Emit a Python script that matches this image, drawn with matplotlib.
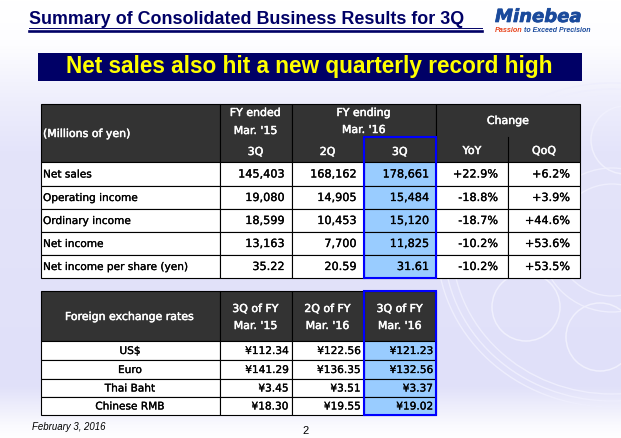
import numpy as np
import matplotlib
matplotlib.use("Agg")
import matplotlib.pyplot as plt
import matplotlib.patheffects as pe
from matplotlib.patches import Rectangle, Ellipse, Circle

# --- table data ---
results_rows = ["Net sales", "Operating income", "Ordinary income", "Net income", "Net income per share (yen)"]
results_3q15 = ["145,403", "19,080", "18,599", "13,163", "35.22"]
results_2q16 = ["168,162", "14,905", "10,453", "7,700", "20.59"]
results_3q16 = ["178,661", "15,484", "15,120", "11,825", "31.61"]
results_yoy = ["+22.9%", "-18.8%", "-18.7%", "-10.2%", "-10.2%"]
results_qoq = ["+6.2%", "+3.9%", "+44.6%", "+53.6%", "+53.5%"]

fx_rows = ["US$", "Euro", "Thai Baht", "Chinese RMB"]
fx_3q15 = ["¥112.34", "¥141.29", "¥3.45", "¥18.30"]
fx_2q16 = ["¥122.56", "¥136.35", "¥3.51", "¥19.55"]
fx_3q16 = ["¥121.23", "¥132.56", "¥3.37", "¥19.02"]

DARK = "#333333"
HILITE = "#99CCFF"
BLUE = "#0000FF"
NAVY = "#000066"
LOGO = "#1A4A9C"
LABEL = dict(family="DejaVu Sans", fontsize=7.6, va="center", color="black", zorder=4,
             path_effects=[pe.withStroke(linewidth=0.2, foreground="black")])
NUM = dict(family="DejaVu Sans", fontsize=8.1, va="center", color="black", ha="right", zorder=4,
           path_effects=[pe.withStroke(linewidth=0.2, foreground="black")])
HEAD = dict(family="DejaVu Sans", fontsize=7.9, va="center", color="white", zorder=4,
            path_effects=[pe.withStroke(linewidth=0.35, foreground="white")])

fig = plt.figure(figsize=(6.21, 4.38), dpi=100)
ax = fig.add_axes([0, 0, 1, 1])
ax.axis("off")

# slide background: white top and bottom, lavender in the middle
ys = np.array([0, 45, 100, 150, 385, 425, 438])
cs = np.array([[255, 255, 255], [253, 253, 255], [238, 238, 252], [228, 228, 250],
               [224, 224, 249], [250, 250, 254], [255, 255, 255]])
grad = np.stack([np.interp(np.arange(438), ys, cs[:, i]) for i in range(3)], axis=1)[:, None, :] / 255
ax.imshow(grad, extent=[0, 621, 438, 0], aspect="auto", zorder=0)
ax.set_xlim(0, 621)
ax.set_ylim(438, 0)

# faint bearing drawing behind the tables
for w, h in [(350, 324), (336, 312), (320, 298)]:
    ax.add_patch(Ellipse((612, 245), w, h, fill=False, ec="#EEEEFD", lw=1.0, zorder=1))
for r in [72, 56]:
    ax.add_patch(Circle((612, 240), r, fill=False, ec="#EEEEFD", lw=1.0, zorder=1))
for cx, cy in [(625, 140), (526, 307), (600, 337)]:
    ax.add_patch(Circle((cx, cy), 34, fill=False, ec="#F0F0FD", lw=1.1, zorder=1))


def cell(x0, x1, y0, y1, fc="white"):
    ax.add_patch(Rectangle((x0, y0), x1 - x0, y1 - y0, fc=fc, ec="black", lw=0.8, zorder=2))


# title block
ax.text(29, 19, "Summary of Consolidated Business Results for 3Q", family="Liberation Sans",
        fontsize=12.85, fontweight="bold", color=NAVY, va="center", zorder=3)
ax.plot([29, 482], [27.5, 27.5], color=NAVY, lw=0.7, zorder=3)
ax.plot([29, 482], [30.5, 30.5], color=NAVY, lw=1.9, zorder=3)
ax.text(495, 17, "Minebea", family="DejaVu Sans", fontsize=13.0, fontweight="bold", style="italic",
        color=LOGO, va="center", zorder=3,
        path_effects=[pe.withStroke(linewidth=0.5, foreground=LOGO)])
ax.text(495, 30, "Passion", family="Liberation Sans", fontsize=5.2, style="italic", fontweight="bold",
        color="#E8451E", va="center", zorder=3)
ax.text(524, 30, "to Exceed Precision", family="Liberation Sans", fontsize=5.0, style="italic",
        fontweight="bold", color=LOGO, va="center", zorder=3)

ax.add_patch(Rectangle((38, 53), 544, 28, fc=NAVY, ec="none", zorder=2))
ax.text(309.5, 67, "Net sales also hit a new quarterly record high", family="Liberation Sans", fontsize=16.3,
        fontweight="bold", color="#FFFF00", ha="center", va="center", zorder=3)

# results table
xs = [40.5, 219.5, 291.5, 363.5, 436, 508, 580]
ytop, ymid, yhead = 104, 137, 162
row_y = [162, 186, 209, 232, 255, 278]

cell(xs[0], xs[1], ytop, yhead, DARK)
cell(xs[1], xs[2], ytop, yhead, DARK)
cell(xs[2], xs[4], ytop, yhead, DARK)
cell(xs[4], xs[6], ytop, yhead, DARK)
ax.plot([xs[5], xs[5]], [ymid, yhead], color="black", lw=0.8, zorder=3)

ax.text(43, 134, "(Millions of yen)", ha="left", **HEAD)
ax.text((xs[1] + xs[2]) / 2, 113, "FY ended", ha="center", **HEAD)
ax.text((xs[1] + xs[2]) / 2, 131, "Mar. '15", ha="center", **HEAD)
ax.text((xs[1] + xs[2]) / 2, 152, "3Q", ha="center", **HEAD)
ax.text((xs[2] + xs[4]) / 2, 113, "FY ending", ha="center", **HEAD)
ax.text((xs[2] + xs[4]) / 2, 130, "Mar. '16", ha="center", **HEAD)
ax.text((xs[2] + xs[3]) / 2, 152, "2Q", ha="center", **HEAD)
ax.text((xs[3] + xs[4]) / 2, 152, "3Q", ha="center", **HEAD)
ax.text((xs[4] + xs[6]) / 2, 121, "Change", ha="center", **HEAD)
ax.text((xs[4] + xs[5]) / 2, 151, "YoY", ha="center", **HEAD)
ax.text((xs[5] + xs[6]) / 2, 151, "QoQ", ha="center", **HEAD)

cols = [results_3q15, results_2q16, results_3q16, results_yoy, results_qoq]
for i, label in enumerate(results_rows):
    y0, y1 = row_y[i], row_y[i + 1]
    ym = (y0 + y1) / 2 + 0.5
    cell(xs[0], xs[1], y0, y1)
    ax.text(43, ym, label, ha="left", **LABEL)
    for j, col in enumerate(cols):
        cell(xs[j + 1], xs[j + 2], y0, y1, HILITE if j == 2 else "white")
        ax.text(xs[j + 2] - 10 if j >= 3 else xs[j + 2] - 7, ym, col[i], **NUM)

# blue box round the current quarter
ax.add_patch(Rectangle((xs[3], ymid), xs[4] - xs[3], row_y[-1] - ymid, fill=False, ec=BLUE, lw=1.5, zorder=5))

# fx table
fxs = [40.5, 219.5, 291.5, 363.5, 436]
fy = [341, 360, 379, 397, 415]
fy_top = 291
for a, b in zip(fxs[:-1], fxs[1:]):
    cell(a, b, fy_top, fy[0], DARK)
ax.text((fxs[0] + fxs[1]) / 2, 317, "Foreign exchange rates", ha="center", **HEAD)
fx_heads = [("3Q of FY", "Mar. '15"), ("2Q of FY", "Mar. '16"), ("3Q of FY", "Mar. '16")]
for j, (l1, l2) in enumerate(fx_heads):
    ax.text((fxs[j + 1] + fxs[j + 2]) / 2, 309, l1, ha="center", **HEAD)
    ax.text((fxs[j + 1] + fxs[j + 2]) / 2, 326, l2, ha="center", **HEAD)

fx_cols = [fx_3q15, fx_2q16, fx_3q16]
for i, label in enumerate(fx_rows):
    y0, y1 = fy[i], fy[i + 1]
    ym = (y0 + y1) / 2 + 0.5
    cell(fxs[0], fxs[1], y0, y1)
    ax.text((fxs[0] + fxs[1]) / 2, ym, label, ha="center", **LABEL)
    for j, col in enumerate(fx_cols):
        cell(fxs[j + 1], fxs[j + 2], y0, y1, HILITE if j == 2 else "white")
        ax.text(fxs[j + 2] - 3, ym, col[i], **{**NUM, "fontsize": 7.6})

ax.add_patch(Rectangle((fxs[3], fy_top), fxs[4] - fxs[3], fy[-1] - fy_top, fill=False, ec=BLUE, lw=1.5, zorder=5))

# footer
ax.text(32, 427.5, "February 3, 2016", family="Liberation Sans", fontsize=6.9, style="italic", color="black",
        va="center", zorder=3)
ax.text(306, 431, "2", family="Liberation Sans", fontsize=8, color="black", ha="center", va="center", zorder=3)

fig.savefig("out.png", dpi=100)
plt.close(fig)
